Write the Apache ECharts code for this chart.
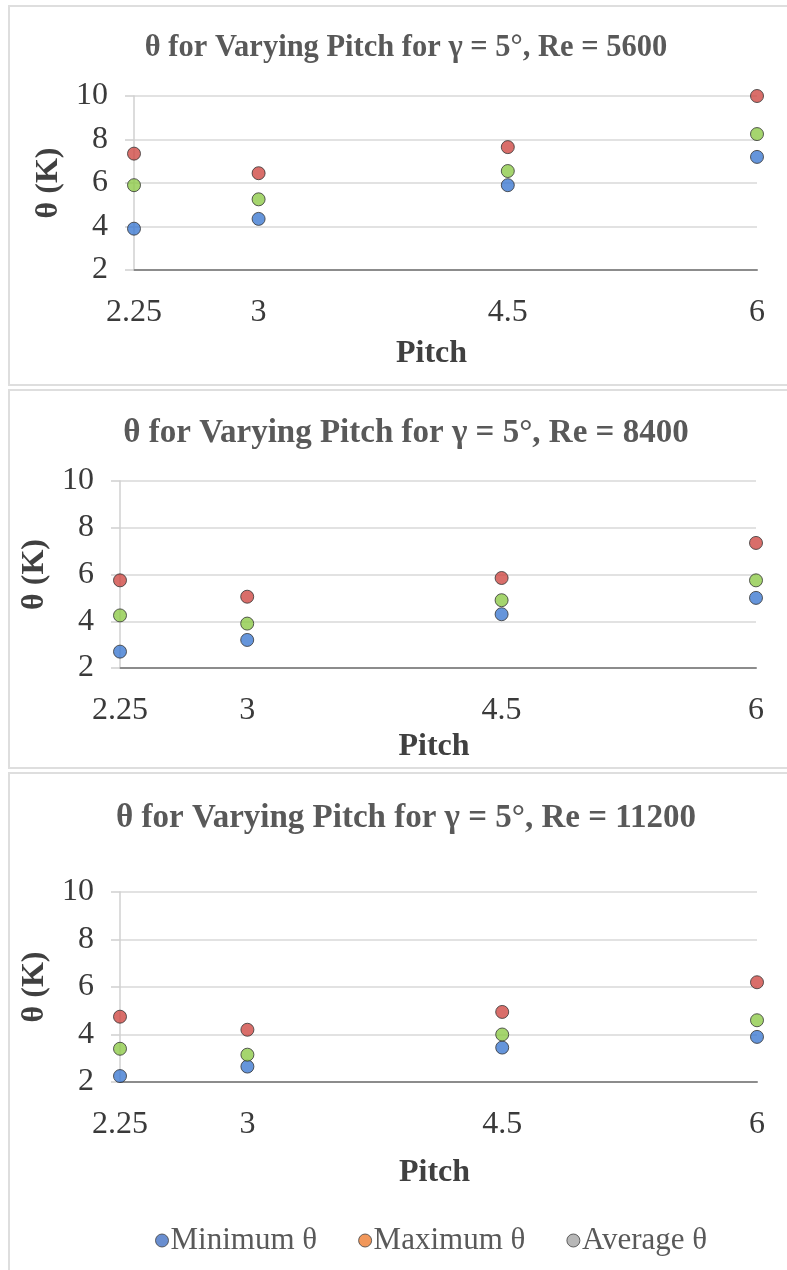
<!DOCTYPE html>
<html>
<head>
<meta charset="utf-8">
<title>θ for Varying Pitch</title>
<script src="https://cdn.jsdelivr.net/npm/echarts@6/dist/echarts.min.js"></script>
<style>
  html, body { margin: 0; padding: 0; background: #ffffff; }
  #chart { width: 787px; height: 1270px; }
</style>
</head>
<body>
<div id="chart"></div>
<script>
// Pitch values on the horizontal axis
const pitchValues = [2.25, 3, 4.5, 6];
const pitchTickLabels = [2.25, 3, 4.5, 6];
// Reynolds numbers, one panel each
const reynolds = [5600, 8400, 11200];
// θ (K) at each pitch
const minTheta5600 = [3.9, 4.35, 5.9, 7.2];
const maxTheta5600 = [7.35, 6.45, 7.65, 10.0];
const avgTheta5600 = [5.9, 5.25, 6.55, 8.25];
const minTheta8400 = [2.7, 3.2, 4.3, 5.0];
const maxTheta8400 = [5.75, 5.05, 5.85, 7.35];
const avgTheta8400 = [4.25, 3.9, 4.9, 5.75];
const minTheta11200 = [2.25, 2.65, 3.45, 3.9];
const maxTheta11200 = [4.75, 4.2, 4.95, 6.2];
const avgTheta11200 = [3.4, 3.15, 4.0, 4.6];
// Vertical axis ticks
const thetaMin = 2, thetaMax = 10, thetaStep = 2;

const seriesNames = ['Minimum θ', 'Maximum θ', 'Average θ'];
const markerColors = ['#3f7bd2', '#cf4a45', '#8fcb4a'];
const legendColors = ['#4472c4', '#ed7d31', '#a5a5a5'];
const panelData = [
  [minTheta5600, maxTheta5600, avgTheta5600],
  [minTheta8400, maxTheta8400, avgTheta8400],
  [minTheta11200, maxTheta11200, avgTheta11200]
];

const serif = '"Liberation Serif", "Times New Roman", serif';
const grids = [
  { left: 134, right: 30, top: 96, height: 174 },
  { left: 120, right: 31, top: 481, height: 187 },
  { left: 120, right: 30, top: 892, height: 190 }
];
const titleLayout = [
  { top: 28, size: 30.5 },
  { top: 412, size: 33 },
  { top: 797, size: 33 }
];
const pitchNameGap = [68, 63, 75];
const thetaNameGap = [66, 61, 61];

const option = {
  backgroundColor: '#ffffff',
  animation: false,
  title: reynolds.map((re, i) => ({
    text: 'θ for Varying Pitch for γ = 5°, Re = ' + re,
    left: 401,
    textAlign: 'center',
    top: titleLayout[i].top,
    textStyle: {
      fontFamily: serif, fontWeight: 'bold',
      fontSize: titleLayout[i].size, color: '#595959'
    }
  })),
  legend: {
    bottom: 9,
    left: 150,
    itemWidth: 13,
    itemHeight: 13,
    itemGap: 41,
    icon: 'circle',
    data: seriesNames.map((n, k) => ({
      name: n,
      itemStyle: { color: legendColors[k], borderColor: '#404040', borderWidth: 1 }
    })),
    textStyle: { fontFamily: serif, fontSize: 31, color: '#595959', padding: [0, 0, 0, -3] }
  },
  graphic: [
    // panel frames
    { type: 'rect', shape: { x: 9, y: 6, width: 790, height: 379 }, style: { fill: 'none', stroke: '#dedede', lineWidth: 2 } },
    { type: 'rect', shape: { x: 9, y: 390, width: 790, height: 378 }, style: { fill: 'none', stroke: '#dedede', lineWidth: 2 } },
    { type: 'rect', shape: { x: 9, y: 773, width: 790, height: 510 }, style: { fill: 'none', stroke: '#dedede', lineWidth: 2 } }
  ],
  grid: grids,
  xAxis: grids.map((g, i) => ({
    type: 'value',
    gridIndex: i,
    min: 2.25,
    max: 6,
    interval: 0.75,
    name: 'Pitch',
    nameLocation: 'middle',
    nameGap: pitchNameGap[i],
    nameTextStyle: {
      fontFamily: serif, fontWeight: 'bold', fontSize: 32, color: '#404040',
      padding: [0, i === 0 ? 28 : 8, 0, 0]
    },
    axisLine: { show: true, onZero: false, lineStyle: { color: '#8c8c8c', width: 2 } },
    axisTick: { show: false },
    splitLine: { show: false },
    axisLabel: {
      customValues: pitchTickLabels,
      formatter: v => String(v),
      margin: 27,
      fontFamily: serif, fontSize: 32, color: '#3a3a3a'
    }
  })),
  yAxis: grids.map((g, i) => ({
    type: 'value',
    gridIndex: i,
    min: thetaMin,
    max: thetaMax,
    interval: thetaStep,
    name: 'θ (K)',
    nameLocation: 'middle',
    nameGap: thetaNameGap[i],
    nameTextStyle: { fontFamily: serif, fontWeight: 'bold', fontSize: 32, color: '#404040' },
    axisLine: { show: true, lineStyle: { color: '#d0d0d0', width: 1.5 } },
    axisTick: { show: true, length: 9, lineStyle: { color: '#d0d0d0', width: 1.5 } },
    splitLine: { show: true, lineStyle: { color: '#d9d9d9', width: 1.5 } },
    axisLabel: { margin: 26, fontFamily: serif, fontSize: 32, color: '#3a3a3a' }
  })),
  series: []
};

panelData.forEach((sets, i) => {
  sets.forEach((vals, k) => {
    option.series.push({
      type: 'scatter',
      name: seriesNames[k],
      xAxisIndex: i,
      yAxisIndex: i,
      symbol: 'circle',
      symbolSize: 13,
      itemStyle: { color: markerColors[k], borderColor: '#333333', borderWidth: 1 },
      data: pitchValues.map((p, j) => [p, vals[j]])
    });
  });
});

const chart = echarts.init(document.getElementById('chart'), null, { renderer: 'canvas' });
chart.setOption(option);
</script>
</body>
</html>
